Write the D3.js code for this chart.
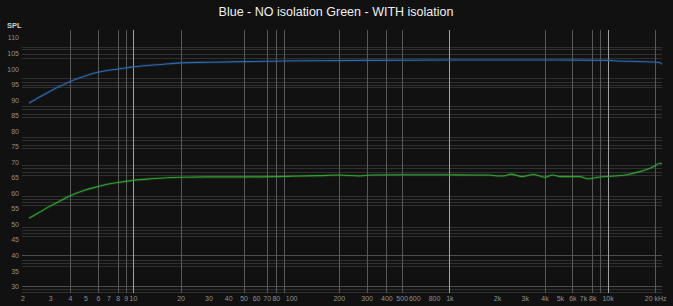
<!DOCTYPE html>
<html>
<head>
<meta charset="utf-8">
<script src="https://cdn.jsdelivr.net/npm/d3@7"></script>
<style>
  html, body { margin: 0; padding: 0; background: #111111; }
  svg { display: block; }
</style>
</head>
<body>
<div id="chart"></div>
<script>
// measured responses (Hz, dB SPL)
var blueHz  = [2.2, 2.5, 3, 3.5, 4, 5, 6, 7, 8, 10, 15, 20, 30, 50, 90, 130, 300, 1000, 5000, 10000, 12000, 14000, 19000, 21400, 22100];
var blueDb  = [88.9, 90.6, 92.8, 94.5, 95.9, 97.7, 98.9, 99.5, 99.9, 100.6, 101.4, 101.9, 102.1, 102.3, 102.5, 102.6, 102.7, 102.8, 102.8, 102.7, 102.5, 102.4, 102.2, 102.0, 101.4];
var greenHz = [2.2, 2.5, 3, 3.5, 4, 5, 6, 7, 8, 10, 13, 20, 30, 50, 100, 150, 200, 270, 320, 500, 900, 1500, 1800, 2000, 2200, 2450, 2900, 3400, 4000, 4500, 5000, 6700, 7500, 8700, 11000, 13500, 16000, 19000, 21500, 22100];
var greenDb = [51.9, 53.5, 55.8, 57.6, 59.1, 61.0, 62.1, 62.9, 63.4, 64.1, 64.6, 65.1, 65.2, 65.2, 65.4, 65.6, 65.8, 65.5, 65.8, 65.9, 65.9, 65.8, 65.8, 65.5, 65.5, 66.1, 65.3, 66.0, 65.1, 65.8, 65.3, 65.3, 64.6, 65.1, 65.5, 66.0, 66.9, 68.2, 69.6, 69.3];

var xTickValues = [2, 3, 4, 5, 6, 7, 8, 9, 10, 20, 30, 40, 50, 60, 70, 80, 100, 200, 300, 400, 500, 600, 800, 1000, 2000, 3000, 4000, 5000, 6000, 7000, 8000, 10000, 20000];
var xTickLabels = ["2", "3", "4", "5", "6", "7", "8", "9", "10", "20", "30", "40", "50", "60", "70", "80", "100", "200", "300", "400", "500", "600", "800", "1k", "2k", "3k", "4k", "5k", "6k", "7k", "8k", "10k", "20 kHz"];
var yTickValues = [110, 105, 100, 95, 90, 85, 80, 75, 70, 65, 60, 55, 50, 45, 40, 35, 30];

var markerHz = [4, 6, 8, 9, 10, 20, 50, 70, 80, 90, 200, 300, 400, 500, 1000, 4000, 6000, 8000, 9000, 10000, 20000];
var brightHz = [10, 1000, 10000];
var gridDb = [107.0, 106.3, 104.9, 103.6, 97.0, 95.9, 94.9, 94.1, 88.0, 86.9, 85.5, 84.5,
              78.0, 77.1, 75.5, 74.5, 69.0, 68.2, 66.8, 65.8, 59.0, 58.1, 57.0, 56.3,
              49.2, 48.1, 47.0, 46.2, 38.4, 37.4, 36.5, 29.0, 28.3];
var majorDb = [40, 30];

var W = 673, H = 306;
var svg = d3.select("#chart").append("svg").attr("width", W).attr("height", H);
svg.append("rect").attr("width", W).attr("height", H).attr("fill", "#111111");

var x = d3.scaleLog().domain([2, 22100]).range([22.4, 662]);
var y = d3.scaleLinear().domain([30, 110]).range([286.3, 37.7]);
var plotTop = 30, plotBottom = 293;

// horizontal grid
svg.append("g").selectAll("line").data(gridDb).join("line")
  .attr("x1", 22).attr("x2", 662)
  .attr("y1", function(d){ return Math.round(y(d)) + 0.5; })
  .attr("y2", function(d){ return Math.round(y(d)) + 0.5; })
  .attr("stroke", "#303030").attr("stroke-width", 1);
svg.append("g").selectAll("line").data(majorDb).join("line")
  .attr("x1", 22).attr("x2", 662)
  .attr("y1", function(d){ return Math.round(y(d)) + 0.5; })
  .attr("y2", function(d){ return Math.round(y(d)) + 0.5; })
  .attr("stroke", "#4c4c4c").attr("stroke-width", 1);

// vertical markers
svg.append("g").selectAll("line").data(markerHz).join("line")
  .attr("x1", function(d){ return Math.round(x(d)) + 0.5; })
  .attr("x2", function(d){ return Math.round(x(d)) + 0.5; })
  .attr("y1", plotTop).attr("y2", plotBottom)
  .attr("stroke", function(d){ return brightHz.indexOf(d) >= 0 ? "#a0a0a0" : "#585858"; })
  .attr("stroke-width", 1);

// axes (labels only)
var xAxis = d3.axisBottom(x).tickValues(xTickValues)
  .tickFormat(function(d, i){ return xTickLabels[i]; }).tickSize(0).tickPadding(0);
var gx = svg.append("g").attr("transform", "translate(0,296)").call(xAxis);
gx.select(".domain").remove();
gx.selectAll("text").attr("fill", "#909090").attr("font-size", "7px")
  .attr("font-family", "Liberation Sans, Arial, sans-serif");

var yAxis = d3.axisLeft(y).tickValues(yTickValues).tickSize(0).tickPadding(0);
var gy = svg.append("g").attr("transform", "translate(19,0)").call(yAxis);
gy.select(".domain").remove();
gy.selectAll("text").attr("fill", "#909090").attr("font-size", "7px")
  .attr("font-family", "Liberation Sans, Arial, sans-serif");

svg.append("text").attr("x", 7).attr("y", 27.5).text("SPL")
  .attr("fill", "#d0d0d0").attr("font-size", "7.5px").attr("font-weight", "bold")
  .attr("font-family", "Liberation Sans, Arial, sans-serif");

// curves
var line = d3.line()
  .x(function(d){ return x(d[0]); })
  .y(function(d){ return y(d[1]); })
  .curve(d3.curveMonotoneX);

function drawCurve(hz, db, color) {
  var pts = d3.zip(hz, db);
  svg.append("path").datum(pts).attr("d", line)
    .attr("fill", "none").attr("stroke", color).attr("stroke-width", 3).attr("stroke-opacity", 0.18);
  svg.append("path").datum(pts).attr("d", line)
    .attr("fill", "none").attr("stroke", color).attr("stroke-width", 1.1);
}
drawCurve(blueHz, blueDb, "#2d69ae");
drawCurve(greenHz, greenDb, "#33a033");

svg.append("text").attr("x", 336).attr("y", 16).attr("text-anchor", "middle")
  .text("Blue - NO isolation Green - WITH isolation")
  .attr("fill", "#f0f0f0").attr("font-size", "12.5px")
  .attr("font-family", "Liberation Sans, Arial, sans-serif");
</script>
</body>
</html>
